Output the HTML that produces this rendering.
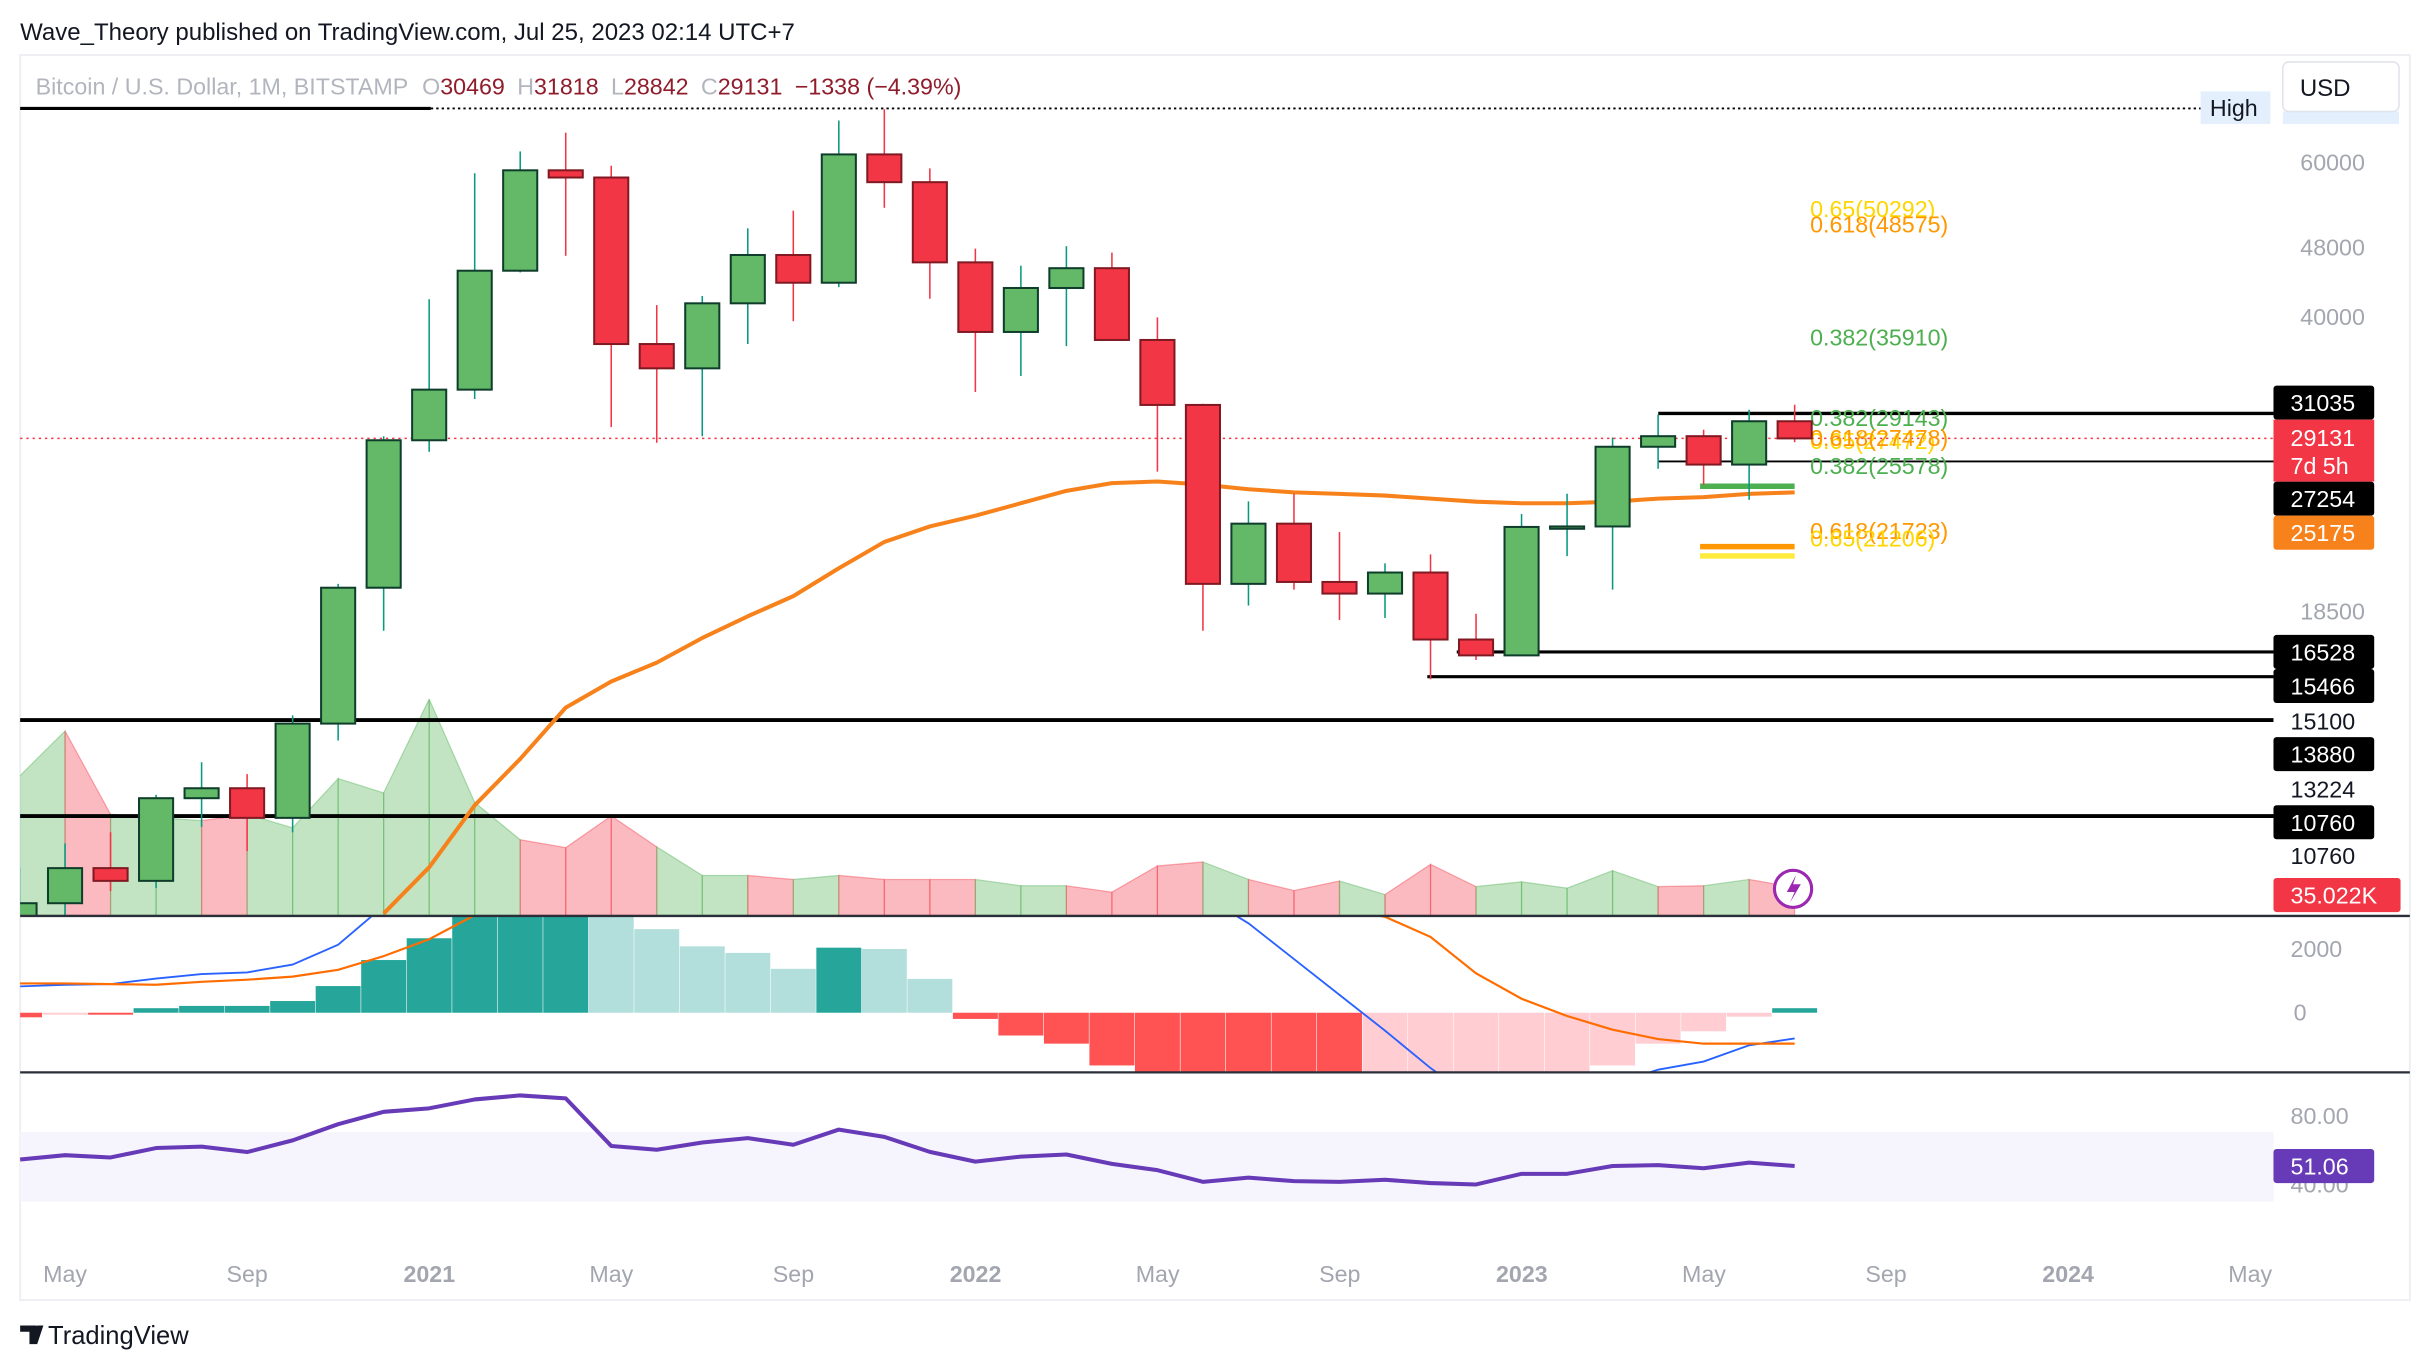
<!DOCTYPE html>
<html><head><meta charset="utf-8"><style>
html,body{margin:0;padding:0;background:#fff;}
svg{display:block;font-family:"Liberation Sans",sans-serif;}
</style></head><body>
<svg id="c" width="2430" height="1372" viewBox="0 0 1568 886" preserveAspectRatio="none" xmlns="http://www.w3.org/2000/svg">
<defs>
<clipPath id="mainClip"><rect x="13" y="36" width="1454" height="555"/></clipPath>
<clipPath id="macdClip"><rect x="13" y="592" width="1454" height="100"/></clipPath>
</defs>
<rect x="0" y="0" width="1568" height="886" fill="#fff"/>
<text x="13" y="26" font-size="15.5" fill="#131722">Wave_Theory published on TradingView.com, Jul 25, 2023 02:14 UTC+7</text>
<rect x="13" y="35.5" width="1542" height="804" fill="none" stroke="#eceef2" stroke-width="1.2"/>
<rect x="13" y="731" width="1454" height="45" fill="#f6f4fc"/>
<g id="vol" clip-path="url(#mainClip)"></g>
<g id="hlines"></g>
<g id="ma" clip-path="url(#mainClip)"></g>
<g id="candles" clip-path="url(#mainClip)"></g>
<g id="macd" clip-path="url(#macdClip)"></g>
<g id="rsi"></g>
<g id="axes"></g>
<line x1="13" y1="591.5" x2="1555" y2="591.5" stroke="#2a2e39" stroke-width="1.5"/>
<line x1="13" y1="692.5" x2="1555" y2="692.5" stroke="#2a2e39" stroke-width="1.5"/>
<text x="23" y="61" font-size="15" fill="#b2b5be">Bitcoin / U.S. Dollar, 1M, BITSTAMP<tspan dx="9">O</tspan><tspan fill="#8f1d2c">30469</tspan><tspan dx="8">H</tspan><tspan fill="#8f1d2c">31818</tspan><tspan dx="8">L</tspan><tspan fill="#8f1d2c">28842</tspan><tspan dx="8">C</tspan><tspan fill="#8f1d2c">29131</tspan><tspan dx="8" fill="#8f1d2c">−1338 (−4.39%)</tspan></text>
<rect x="1420" y="59" width="45" height="21" fill="#e3effd"/>
<text x="1426" y="75" font-size="15" fill="#131722">High</text>
<rect x="1473" y="72" width="75" height="8" fill="#e3effd"/>
<rect x="1473" y="40" width="75" height="32" rx="4" fill="#fff" stroke="#e0e3eb"/>
<text x="1484" y="62" font-size="15.5" fill="#131722">USD</text>
<circle cx="1157" cy="574" r="12" fill="#fff" stroke="#9c27b0" stroke-width="2"/>
<path d="M1159 565 L1153 576 L1158 576 L1155 583 L1162 571 L1157 571 Z" fill="#9c27b0"/>
<g>
<path d="M13 856 h10 v12 h-4 v-8 h-6z M24 856 h4 l-4 12 h-4z" fill="#131722"/>
<circle cx="23" cy="858" r="2" fill="#131722"/>
<text x="31" y="868" font-size="16.5" fill="#131722">TradingView</text>
</g>
</svg>
<script>
// months start Apr 2020 (index 0)
const opens  = [6430,8620,9450,9140,11350,11650,10780,13800,19700,28990,33100,45200,58800,57700,37300,35000,41500,47100,43800,61300,57000,46200,38500,43200,45500,37700,31800,19900,23300,20000,19400,20500,17200,16500,23100,23130,28500,29300,27200,30469];
const highs  = [9460,10080,10380,11450,12470,12090,14100,19900,29300,41950,58350,61780,64900,59500,41300,42300,50500,52900,67000,69000,59100,47900,45800,48200,47400,40000,31900,24700,25200,22800,21000,21500,18400,23900,25200,29200,31000,29800,31400,31818];
const lows   = [6150,8110,8900,8970,10530,9880,10380,13200,17600,28130,32300,45000,47000,30000,28800,29300,37300,39600,43300,53300,42000,32900,34300,37100,37600,26700,17600,18800,19600,18100,18200,15500,16300,16500,21400,19600,26900,25800,24800,28842];
const closes = [8620,9450,9140,11350,11650,10780,13800,19700,28990,33100,45200,58800,57700,37300,35000,41500,47100,43800,61300,57000,46200,38500,43200,45500,37700,31800,19900,23300,20000,19400,20500,17200,16500,23100,23130,28500,29300,27200,30470,29131];
const volumeK = [175,232,127,123,119,127,110,172,154,272,142,95,85,125,86,50,50,45,50,45,45,45,37,37,29,62,67,45,31,43,26,64,36,42,34,56,36,37,45,35];
const maStart = 8;
const maValues = [8390,9470,11140,12580,14390,15410,16190,17270,18280,19270,20730,22210,23130,23790,24580,25390,25910,26020,25810,25500,25290,25190,25080,24880,24680,24580,24580,24680,24880,24980,25190,25290];
const macdHist = [-140,-60,-60,140,210,210,360,820,1620,2290,3500,3800,3800,3700,2570,2040,1840,1350,2000,1960,1040,-190,-700,-950,-1620,-2400,-2700,-2900,-3000,-3100,-3000,-2900,-2700,-2400,-2000,-1620,-950,-570,-120,140];
const macdLine = [810,860,880,1050,1190,1240,1480,2090,3280,4550,5800,7000,8200,8800,8900,8700,8400,8000,7600,7200,6600,5900,5200,4600,4200,3900,3600,2750,1650,550,-550,-1700,-2700,-3000,-2800,-2200,-1750,-1500,-1000,-790];
const signalLine = [900,900,880,860,950,1015,1110,1320,1740,2260,3000,3900,4700,5400,5800,6000,6100,6100,6000,5900,5800,5600,5300,5000,4700,4400,4100,3800,3500,3200,2950,2330,1210,430,-100,-520,-810,-950,-950,-950];
const rsiValues = [54.4,56.9,55.6,61.0,61.8,58.7,65.4,74.7,81.8,83.8,88.9,91.2,89.5,62.2,60.0,64.2,66.7,62.9,71.6,67.4,58.8,53.2,56.1,57.3,51.9,48.3,41.6,44.0,42.0,41.6,42.8,40.9,40.1,46.2,46.2,50.7,51.2,49.4,52.6,50.7];
const timeLabels = ["May","Sep","2021","May","Sep","2022","May","Sep","2023","May","Sep","2024","May"];
const priceTicks = [60000,48000,40000,18500];

const NS="http://www.w3.org/2000/svg";
function mk(tag,attrs,parent){const e=document.createElementNS(NS,tag);for(const k in attrs)e.setAttribute(k,attrs[k]);parent.appendChild(e);return e;}
const xM = i => 12.6 + i*29.37;
const yP = p => 105 + (Math.log(60000)-Math.log(p))*246.5;
const yV = v => 591 - v/1.95;
const yMacd = v => 654 - v/47.6;
const yRsi = v => 720 + (80-v)*1.125;

const gv=document.getElementById('vol');
for(let i=1;i<volumeK.length;i++){
  const up=closes[i]>=opens[i];
  const p=mk('polygon',{points:`${xM(i-1)},591 ${xM(i-1)},${yV(volumeK[i-1])} ${xM(i)},${yV(volumeK[i])} ${xM(i)},591`,fill:up?'rgba(76,175,80,0.34)':'rgba(242,54,69,0.34)',stroke:up?'rgba(76,175,80,0.4)':'rgba(242,54,69,0.4)','stroke-width':0.8},gv);
  
  
}
const gh=document.getElementById('hlines');
const hl=[[13,278,70,2],[1070,1467,267,2.2],[1070,1467,298,1.2],[940,1467,421,2],[921,1467,437,2],[13,1467,465,2.5],[13,1467,527,2.5]];
hl.forEach(h=>{const l=mk('line',{x1:h[0],x2:h[1],y1:h[2],y2:h[2],stroke:'#000','stroke-width':h[3]},gh);
  
  });
const dl=mk('line',{x1:278,x2:1420,y1:70,y2:70,stroke:'#000','stroke-width':1.2,'stroke-dasharray':'1.5,2'},gh);


const pl=mk('line',{x1:13,x2:1467,y1:yP(29131),y2:yP(29131),stroke:'#f23645','stroke-width':1,'stroke-dasharray':'1.5,2.5'},gh);


[[314,'#4caf50'],[353,'#ff9800'],[359,'#ffeb3b']].forEach(f=>{const l=mk('line',{x1:1097,x2:1158,y1:f[0],y2:f[0],stroke:f[1],'stroke-width':3.5},gh);
  
  });
const fibs=[["0.65(50292)",140,'#ffd600'],["0.618(48575)",150,'#ff9800'],["0.382(35910)",223,'#4caf50'],["0.382(29143)",275,'#4caf50'],["0.65(27472)",290,'#ffd600'],["0.618(27478)",288,'#ff9800'],["0.382(25578)",306,'#4caf50'],["0.618(21723)",348,'#ff9800'],["0.65(21206)",353,'#ffd600']];
fibs.forEach(f=>{const t=mk('text',{x:1168,y:f[1],'font-size':15,fill:f[2]},gh);t.textContent=f[0];
  
  });
const gm=document.getElementById('ma');
const maPts=maValues.map((v,k)=>`${xM(maStart+k)},${yP(v)}`).join(' ');
const ml=mk('polyline',{points:maPts,fill:'none',stroke:'#f7821b','stroke-width':2.6,'stroke-linejoin':'round'},gm);


const gc=document.getElementById('candles');
for(let i=0;i<opens.length;i++){
  const up=closes[i]>=opens[i], x=xM(i);
  const w=mk('line',{x1:x,x2:x,y1:yP(highs[i]),y2:yP(lows[i]),stroke:up?'#089981':'#f23645','stroke-width':1},gc);
  
  
  const t=Math.min(yP(opens[i]),yP(closes[i])), b=Math.max(yP(opens[i]),yP(closes[i]));
  const r=mk('rect',{x:x-11,y:t,width:22,height:Math.max(b-t,1.5),fill:up?'#63b967':'#f23645',stroke:up?'#0f3d2b':'#801922','stroke-width':1.3},gc);
  
  
}
const gd=document.getElementById('macd');
for(let i=0;i<macdHist.length;i++){
  const v=macdHist[i], prev=i>0?macdHist[i-1]:v;
  let col = v>=0 ? (v>=prev?'#26a69a':'#b2dfdb') : (v<=prev?'#ff5252':'#ffcdd2');
  const y0=yMacd(0), y1=yMacd(v);
  const r=mk('rect',{x:xM(i)-14.5,y:Math.min(y0,y1),width:29,height:Math.abs(y1-y0),fill:col},gd);
  
  
}
const bl=mk('polyline',{points:macdLine.map((v,i)=>`${xM(i)},${yMacd(v)}`).join(' '),fill:'none',stroke:'#2962ff','stroke-width':1.2},gd);


const sl=mk('polyline',{points:signalLine.map((v,i)=>`${xM(i)},${yMacd(v)}`).join(' '),fill:'none',stroke:'#ff6d00','stroke-width':1.4},gd);


const gr=document.getElementById('rsi');
const rl=mk('polyline',{points:rsiValues.map((v,i)=>`${Math.max(13,xM(i))},${yRsi(v)}`).join(' '),fill:'none',stroke:'#673ab7','stroke-width':2.6,'stroke-linejoin':'round'},gr);


const ga=document.getElementById('axes');
timeLabels.forEach((s,k)=>{const bold=/^\d/.test(s);
  const t=mk('text',{x:42+k*117.5,y:828,'font-size':15,'text-anchor':'middle',fill:'#a3a6af','font-weight':bold?'bold':'normal'},ga);t.textContent=s;
  
  });
priceTicks.forEach(p=>{const t=mk('text',{x:1526,y:yP(p)+5,'font-size':15,'text-anchor':'end',fill:'#a3a6af'},ga);t.textContent=p;
  
  });
[["15100",471,'#131722'],["13224",515,'#131722'],["10760",558,'#131722'],["2000",618,'#a3a6af'],["0",659,'#a3a6af'],["80.00",726,'#a3a6af'],["40.00",770,'#a3a6af']].forEach(a=>{
  const t=mk('text',{x:a[0]==="0"?1480:1478,y:a[1],'font-size':15,fill:a[2]},ga);t.textContent=a[0];
  
  });
const boxes=[["31035",249,'#000'],["27254",311,'#000'],["25175",333,'#f7821b'],["16528",410,'#000'],["15466",432,'#000'],["13880",476,'#000'],["10760",520,'#000'],["35.022K",567,'#f23645'],["51.06",742,'#673ab7']];
boxes.forEach(b=>{const r=mk('rect',{x:1467,y:b[1],width:b[0].length>6?82:65,height:22,fill:b[2],rx:2},ga);
  
  
  const t=mk('text',{x:1478,y:b[1]+16.5,'font-size':15,fill:'#fff'},ga);t.textContent=b[0];
  
  });
const rb=mk('rect',{x:1467,y:271,width:65,height:40,fill:'#f23645'},ga);


const t1=mk('text',{x:1478,y:288,'font-size':15,fill:'#fff'},ga);t1.textContent="29131";


const t2=mk('text',{x:1478,y:306,'font-size':15,fill:'#fff'},ga);t2.textContent="7d 5h";


</script>
</body></html>
